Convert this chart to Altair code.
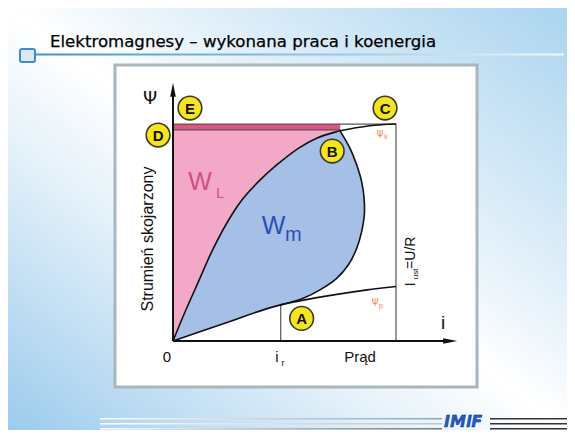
import altair as alt
import pandas as pd

# ---- data (i: current, psi: flux linkage) ----
psi_k_i = [0.0, 0.048, 0.114, 0.181, 0.263, 0.315, 0.383, 0.465, 0.562, 0.644, 0.734, 0.749, 0.883, 1.0]
psi_k_psi = [0.0, 0.123, 0.281, 0.439, 0.597, 0.676, 0.755, 0.834, 0.913, 0.961, 0.992, 0.996, 1.020, 1.028]
psi_p_i = [0.0, 0.242, 0.483, 0.883, 1.0]
psi_p_psi = [0.0, 0.088, 0.171, 0.244, 0.258]
traj_i = [0.749, 0.794, 0.824, 0.846, 0.857, 0.858, 0.846, 0.824, 0.786, 0.734, 0.659, 0.584, 0.483]
traj_psi = [0.996, 0.913, 0.834, 0.755, 0.676, 0.597, 0.518, 0.439, 0.360, 0.297, 0.242, 0.202, 0.171]
I_R = 0.483
I_UST = 1.0
PSI_D = 1.0
PSI_C = 1.028
I_BAND_END = 0.75

point_names = ["E", "C", "D", "B", "A"]
point_i = [0.076, 0.951, -0.067, 0.714, 0.577]
point_psi = [1.104, 1.104, 0.976, 0.900, 0.107]

W, H = 559, 422
XMIN, XMAX = -0.740, 1.767
YMIN, YMAX = -0.422, 1.578
xs = alt.Scale(domain=[XMIN, XMAX], nice=False, zero=False)
ys = alt.Scale(domain=[YMIN, YMAX], nice=False, zero=False)


def X(f="i"):
    return alt.X(f"{f}:Q", scale=xs, axis=None)


def Y(f="psi"):
    return alt.Y(f"{f}:Q", scale=ys, axis=None)


one = pd.DataFrame({"a": [0]})
FONT = "Liberation Sans"

# ---- decorations of the slide ----
bg = alt.Chart(one).mark_rect(
    fill=alt.LinearGradient(
        gradient="linear", x1=1, y1=0, x2=0, y2=1,
        stops=[alt.GradientStop(offset=0, color="#aad4ef"),
               alt.GradientStop(offset=0.35, color="#e4f1fa"),
               alt.GradientStop(offset=0.5, color="#ffffff"),
               alt.GradientStop(offset=0.65, color="#e6f2fa"),
               alt.GradientStop(offset=1, color="#9ccbed")])
).encode(x=alt.value(0), x2=alt.value(W), y=alt.value(0), y2=alt.value(H))

title_line = alt.Chart(one).mark_rect(
    fill=alt.LinearGradient(
        gradient="linear", x1=0, y1=0, x2=1, y2=0,
        stops=[alt.GradientStop(offset=0, color="#3f93d0"),
               alt.GradientStop(offset=0.6, color="#9fcbea"),
               alt.GradientStop(offset=1, color="#f4f9fd")])
).encode(x=alt.value(27), x2=alt.value(556), y=alt.value(45.5), y2=alt.value(47.5))

square = alt.Chart(one).mark_rect(
    fill="#dce9f5", stroke="#3f8cc8", strokeWidth=2, cornerRadius=2
).encode(x=alt.value(12), x2=alt.value(27), y=alt.value(41), y2=alt.value(54))

title = alt.Chart(one).mark_text(
    text="Elektromagnesy – wykonana praca i koenergia", font="DejaVu Sans",
    fontSize=16.6, align="left", baseline="alphabetic", color="#000000",
    stroke="#000000", strokeWidth=0.25
).encode(x=alt.value(42), y=alt.value(39))

frame = alt.Chart(one).mark_rect(
    fill="#ffffff", stroke="#aab6be", strokeWidth=3
).encode(x=alt.value(107), x2=alt.value(469), y=alt.value(57), y2=alt.value(379))

bottom_lines = []
for yy, col in [(410, "#8aa6bd"), (415, "#b9c4cc"), (420, "#6f7c86")]:
    bottom_lines.append(alt.Chart(one).mark_rect(
        fill=alt.LinearGradient(
            gradient="linear", x1=0, y1=0, x2=1, y2=0,
            stops=[alt.GradientStop(offset=0, color="#ffffff"),
                   alt.GradientStop(offset=1, color=col)])
    ).encode(x=alt.value(92), x2=alt.value(434), y=alt.value(yy), y2=alt.value(yy + 1.6)))
    bottom_lines.append(alt.Chart(one).mark_rect(fill="#333333").encode(
        x=alt.value(482), x2=alt.value(W), y=alt.value(yy), y2=alt.value(yy + 1.6)))

logo = alt.Chart(one).mark_text(
    text="IMiF", font="DejaVu Sans", fontSize=16, fontStyle="italic", fontWeight="bold",
    color="#1f5fc8", align="left", baseline="alphabetic", stroke="#0a2c80", strokeWidth=0.4
).encode(x=alt.value(436), y=alt.value(419))

# ---- diagram ----
n_up = psi_k_i.index(traj_i[0]) + 1
pink_df = pd.DataFrame({
    "i": psi_k_i[:n_up] + [I_BAND_END, 0.0],
    "psi": psi_k_psi[:n_up] + [PSI_D, PSI_D],
})
pink_df["k"] = range(len(pink_df))
pink = alt.Chart(pink_df).mark_line(fill="#f2a8c6", stroke="#f2a8c6", strokeWidth=0.5).encode(
    x=X(), y=Y(), order="k:Q")

band = alt.Chart(pd.DataFrame({"i": [0.0], "i2": [I_BAND_END], "psi": [PSI_D], "psi2": [PSI_C]})).mark_rect(
    fill="#e5527f").encode(x=X(), x2="i2:Q", y=Y(), y2="psi2:Q")

blue_df = pd.DataFrame({
    "i": psi_k_i[:n_up] + traj_i[1:] + psi_p_i[:2][::-1],
    "psi": psi_k_psi[:n_up] + traj_psi[1:] + psi_p_psi[:2][::-1],
})
blue_df["k"] = range(len(blue_df))
blue = alt.Chart(blue_df).mark_line(fill="#a5bfe6", stroke="#a5bfe6", strokeWidth=0.5).encode(
    x=X(), y=Y(), order="k:Q")


def curve(ii, pp, width=1.6):
    d = pd.DataFrame({"i": ii, "psi": pp})
    d["k"] = range(len(d))
    return alt.Chart(d).mark_line(color="#111111", strokeWidth=width, interpolate="catmull-rom").encode(
        x=X(), y=Y(), order="k:Q")


line_k = curve(psi_k_i, psi_k_psi)
line_p = curve(psi_p_i, psi_p_psi)
line_t = curve(traj_i, traj_psi)

rules_df = pd.DataFrame({
    "i": [0.0, 0.0, I_R, I_UST],
    "i2": [I_UST, I_BAND_END, I_R, I_UST],
    "psi": [PSI_C, PSI_D, 0.0, 0.0],
    "psi2": [PSI_C, PSI_D, psi_p_psi[2], PSI_C],
})
rules = alt.Chart(rules_df).mark_rule(color="#555555", strokeWidth=1.2).encode(
    x=X(), x2="i2:Q", y=Y(), y2="psi2:Q")

axes_df = pd.DataFrame({"i": [0.0, 0.0], "i2": [0.0, 1.245], "psi": [0.0, 0.0], "psi2": [1.19, 0.0]})
axes = alt.Chart(axes_df).mark_rule(color="#111111", strokeWidth=2).encode(
    x=X(), x2="i2:Q", y=Y(), y2="psi2:Q")
arrow_y = alt.Chart(pd.DataFrame({"i": [0.0], "psi": [1.19]})).mark_point(
    shape="M0,-1L0.4,1L-0.4,1Z", size=196, filled=True, color="#111111", opacity=1).encode(x=X(), y=Y())
arrow_x = alt.Chart(pd.DataFrame({"i": [1.243], "psi": [0.0]})).mark_point(
    shape="M1,0L-1,-0.4L-1,0.4Z", size=196, filled=True, color="#111111", opacity=1).encode(x=X(), y=Y())

pts_df = pd.DataFrame({"i": point_i, "psi": point_psi, "name": point_names})
circles = alt.Chart(pts_df).mark_point(
    shape="circle", size=560, filled=True, fill="#f5e41e", stroke="#3a3a2a", strokeWidth=1.6, opacity=1
).encode(x=X(), y=Y())
letters = alt.Chart(pts_df).mark_text(
    font=FONT, fontSize=15, fontWeight="bold", color="#111111", baseline="middle", align="center", dy=1
).encode(x=X(), y=Y(), text="name:N")


def label(txt, i, psi, size, color="#111111", angle=0, weight="normal", font=FONT, align="center"):
    return alt.Chart(pd.DataFrame({"i": [i], "psi": [psi], "t": [txt]})).mark_text(
        font=font, fontSize=size, color=color, angle=angle, fontWeight=weight,
        align=align, baseline="middle"
    ).encode(x=X(), y=Y(), text="t:N")


labels = [
    label("Ψ", -0.103, 1.147, 18, font="DejaVu Sans"),
    label("i", 1.211, 0.085, 19),
    label("0", -0.027, -0.076, 15),
    label("i", 0.466, -0.076, 15),
    label("r", 0.493, -0.104, 9),
    label("Prąd", 0.839, -0.076, 15),
    label("Strumień skojarzony", -0.112, 0.483, 16, angle=270),
    label("I", 1.067, 0.268, 14, angle=270),
    label("ust", 1.088, 0.318, 8, angle=270),
    label("=U/R", 1.067, 0.418, 14, angle=270),
    label("W", 0.121, 0.754, 25, color="#cf4f88"),
    label("L", 0.211, 0.697, 14, color="#cf4f88"),
    label("W", 0.451, 0.545, 25, color="#2b50b6"),
    label("m", 0.540, 0.502, 20, color="#2b50b6"),
    label("ψ", 0.928, 0.986, 10, color="#f08a5a", font="DejaVu Sans"),
    label("k", 0.955, 0.967, 7, color="#f08a5a"),
    label("ψ", 0.906, 0.190, 10, color="#f08a5a", font="DejaVu Sans"),
    label("p", 0.933, 0.166, 7, color="#f08a5a"),
]

chart = alt.layer(
    bg, title_line, square, title, frame, *bottom_lines, logo,
    pink, band, blue, rules, line_k, line_p, line_t, axes, arrow_y, arrow_x,
    circles, letters, *labels
).properties(
    width=W, height=H, padding=0, autosize=alt.AutoSizeParams(type="none")
).configure_view(stroke=None)

chart.save("out.html", embed_options={"renderer": "svg", "actions": False})
